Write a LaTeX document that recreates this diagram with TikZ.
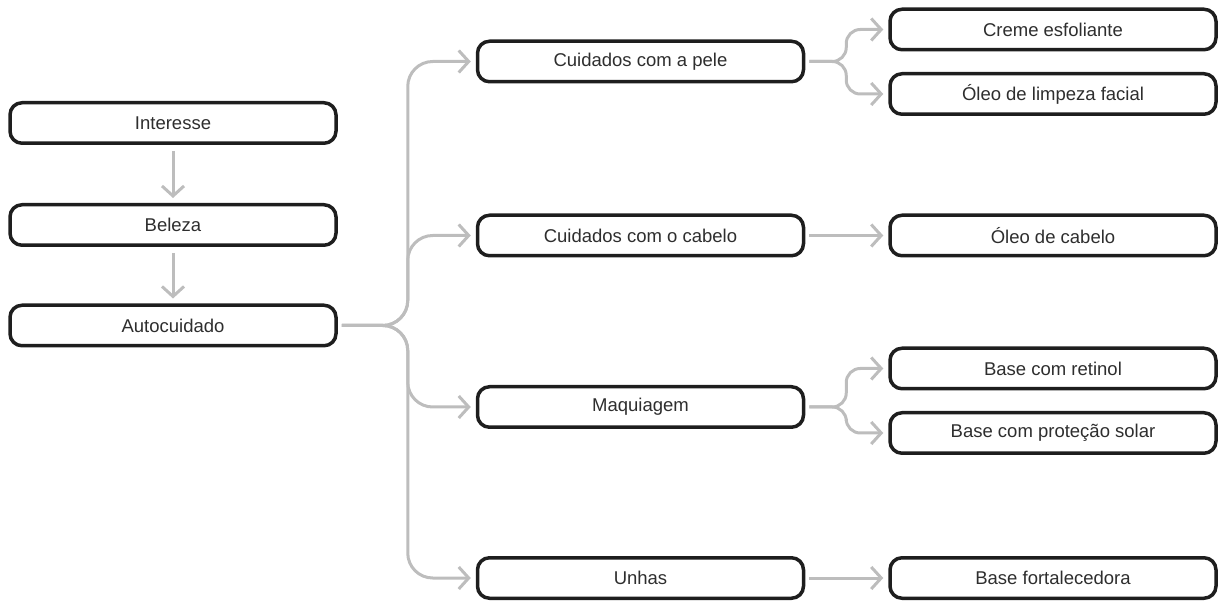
\documentclass[tikz,border=0pt]{standalone}
\usepackage{fontspec}
\setmainfont{Liberation Sans}
\usepackage{xcolor}
\definecolor{MapInk}{HTML}{1E1E1E}
\definecolor{MapText}{HTML}{2E2E2E}
\definecolor{MapWire}{HTML}{BDBDBD}
\usetikzlibrary{arrows.meta, positioning}

\begin{document}
\begin{tikzpicture}[x=1pt, y=-1pt,
    topic/.style={draw=MapInk, line width=3.5pt, rounded corners=12pt, fill=white,
      minimum width=326pt, minimum height=40.5pt, inner sep=0pt,
      text=MapText, font=\fontsize{18.5}{22}\selectfont},
    wire/.style={draw=MapWire, line width=3pt, rounded corners=25pt,
      -{Straight Barb[length=10pt, width=22pt]}, shorten <=4pt, shorten >=5pt},
    twig/.style={wire, rounded corners=14pt}]
  \useasboundingbox (0,0) rectangle (1224,601);

  % Chain on the left
  \node[topic] (interesse) at (173, 123) {Interesse};
  \node[topic] (beleza) at (173, 225) {Beleza};
  \node[topic] (auto) at (173, 325.5) {Autocuidado};
  \draw[wire, shorten <=6pt] (interesse) -- (beleza);
  \draw[wire, shorten <=6pt] (beleza) -- (auto);

  % Middle column
  \node[topic] (pele) at (640.5, 61.5) {Cuidados com a pele};
  \node[topic] (cabelo) at (640.5, 235.5) {Cuidados com o cabelo};
  \node[topic] (maquiagem) at (640.5, 407) {Maquiagem};
  \node[topic] (unhas) at (640.5, 578) {Unhas};

  % Right column
  \node[topic] (creme) at (1053, 29.5) {Creme esfoliante};
  \node[topic] (limpeza) at (1053, 94) {Óleo de limpeza facial};
  \node[topic] (oleocabelo) at (1053, 235.5) {Óleo de cabelo};
  \node[topic] (retinol) at (1053, 368.5) {Base com retinol};
  \node[topic] (solar) at (1053, 433) {Base com proteção solar};
  \node[topic] (fortalecedora) at (1053, 578) {Base fortalecedora};

  % Trunk from Autocuidado
  \draw[wire] (auto.east) -- ++(70,0) |- (pele.west);
  \draw[wire] (auto.east) -- ++(70,0) |- (cabelo.west);
  \draw[wire] (auto.east) -- ++(70,0) |- (maquiagem.west);
  \draw[wire] (auto.east) -- ++(70,0) |- (unhas.west);

  % Twigs to the products
  \draw[twig] (pele.east) -- ++(41,0) |- (creme.west);
  \draw[twig] (pele.east) -- ++(41,0) |- (limpeza.west);
  \draw[wire] (cabelo.east) -- (oleocabelo.west);
  \draw[twig] (maquiagem.east) -- ++(41,0) |- (retinol.west);
  \draw[twig] (maquiagem.east) -- ++(41,0) |- (solar.west);
  \draw[wire] (unhas.east) -- (fortalecedora.west);
\end{tikzpicture}
\end{document}
